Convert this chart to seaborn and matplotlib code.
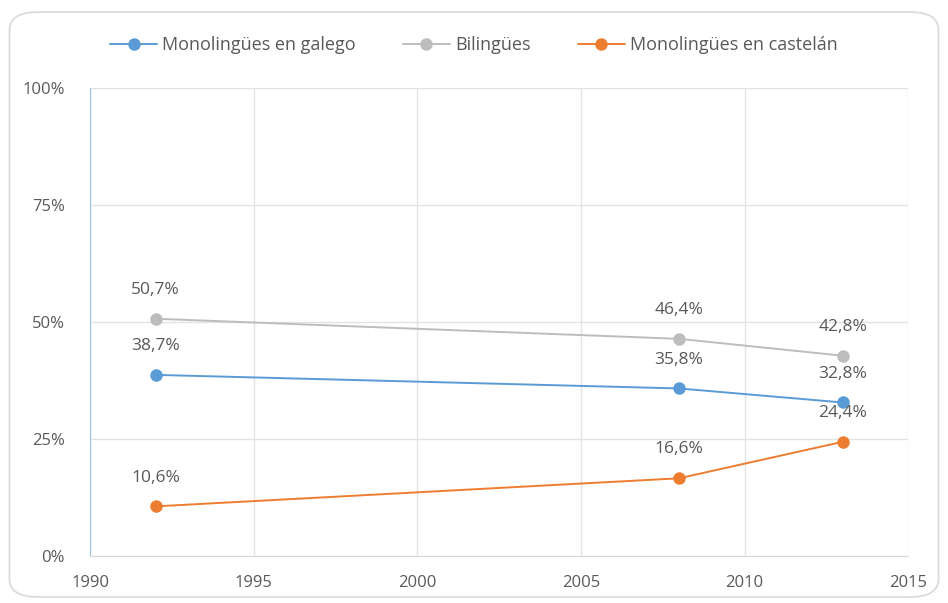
import matplotlib
matplotlib.use("Agg")
import matplotlib.pyplot as plt
import seaborn as sns
import pandas as pd
from matplotlib.patches import FancyBboxPatch

years = [1992, 2008, 2013]
series = ["Monolingües en galego", "Bilingües", "Monolingües en castelán"]
galego = [38.7, 35.8, 32.8]
bilingues = [50.7, 46.4, 42.8]
castelan = [10.6, 16.6, 24.4]
colors = ["#5B9BD5", "#BDBDBD", "#ED7D31"]

df = pd.DataFrame({
    "year": years * 3,
    "value": galego + bilingues + castelan,
    "serie": [s for s in series for _ in years],
})

sns.set_style("white")
plt.rcParams["font.family"] = ["Open Sans", "DejaVu Sans"]

fig = plt.figure(figsize=(9.48, 6.03), dpi=100)
ax = fig.add_axes([0.095, 0.078, 0.863, 0.776])

sns.lineplot(data=df, x="year", y="value", hue="serie", hue_order=series,
             palette=colors, marker="o", markersize=9, markeredgewidth=0,
             linewidth=1.4, ax=ax)

# data labels
for s, vals in zip(series, [galego, bilingues, castelan]):
    for x, v in zip(years, vals):
        ax.annotate(f"{v:.1f}%".replace(".", ","), (x, v), xytext=(0, 15),
                    textcoords="offset points", ha="center", va="bottom",
                    fontsize=12.5, color="#595959")

ax.set_xlim(1990, 2015)
ax.set_ylim(0, 100)
ax.set_xticks(range(1990, 2016, 5))
ax.set_yticks([0, 25, 50, 75, 100])
ax.set_yticklabels([f"{t}%" for t in [0, 25, 50, 75, 100]])
ax.tick_params(length=0, labelsize=12, labelcolor="#595959")
ax.tick_params(axis="x", pad=14)
ax.tick_params(axis="y", pad=18)
ax.set_xlabel("")
ax.set_ylabel("")
ax.grid(True, color="#E3E3E3", linewidth=1)
for side in ["top", "right"]:
    ax.spines[side].set_visible(False)
ax.spines["left"].set_color("#9DC3E6")
ax.spines["bottom"].set_color("#D9D9D9")

handles, labels = ax.get_legend_handles_labels()
ax.get_legend().remove()
leg = fig.legend(handles, labels, loc="center", bbox_to_anchor=(0.5, 0.925),
                 ncol=3, frameon=False, fontsize=13, handlelength=2.6,
                 columnspacing=2.6, handletextpad=0.3)
for t in leg.get_texts():
    t.set_color("#595959")

border = FancyBboxPatch((0.01, 0.01), 0.98, 0.97, transform=fig.transFigure,
                        boxstyle="round,pad=0,rounding_size=0.03",
                        facecolor="none", edgecolor="#D9D9D9", linewidth=1.2)
fig.patches.append(border)

fig.savefig("out.png", dpi=100)
